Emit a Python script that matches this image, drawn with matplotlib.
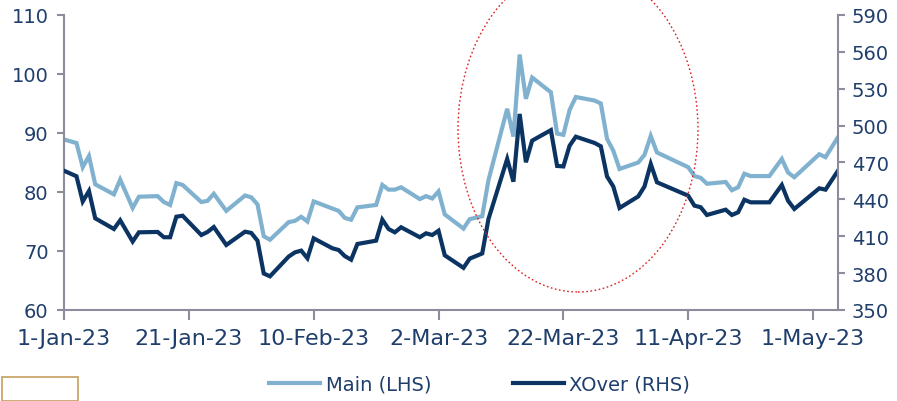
import matplotlib
matplotlib.use("Agg")
import matplotlib.pyplot as plt
from matplotlib.patches import Ellipse, Rectangle
import pandas as pd

dates = ["2023-01-01", "2023-01-03", "2023-01-04", "2023-01-05", "2023-01-06",
         "2023-01-09", "2023-01-10", "2023-01-12", "2023-01-13", "2023-01-16",
         "2023-01-17", "2023-01-18", "2023-01-19", "2023-01-20", "2023-01-23",
         "2023-01-24", "2023-01-25", "2023-01-27", "2023-01-30", "2023-01-31",
         "2023-02-01", "2023-02-02", "2023-02-03", "2023-02-06", "2023-02-07",
         "2023-02-08", "2023-02-09", "2023-02-10", "2023-02-13", "2023-02-14",
         "2023-02-15", "2023-02-16", "2023-02-17", "2023-02-20", "2023-02-21",
         "2023-02-22", "2023-02-23", "2023-02-24", "2023-02-27", "2023-02-28",
         "2023-03-01", "2023-03-02", "2023-03-03", "2023-03-06", "2023-03-07",
         "2023-03-09", "2023-03-10", "2023-03-13", "2023-03-14", "2023-03-15",
         "2023-03-16", "2023-03-17", "2023-03-20", "2023-03-21", "2023-03-22",
         "2023-03-23", "2023-03-24", "2023-03-27", "2023-03-28", "2023-03-29",
         "2023-03-30", "2023-03-31", "2023-04-03", "2023-04-04", "2023-04-05",
         "2023-04-06", "2023-04-11", "2023-04-12", "2023-04-13", "2023-04-14",
         "2023-04-17", "2023-04-18", "2023-04-19", "2023-04-20", "2023-04-21",
         "2023-04-24", "2023-04-26", "2023-04-27", "2023-04-28", "2023-05-02",
         "2023-05-03", "2023-05-05"]

main_lhs = [88.9, 88.3, 84.2, 86.1, 81.3,
            79.6, 82.1, 77.3, 79.2, 79.3,
            78.3, 77.8, 81.5, 81.2, 78.3,
            78.5, 79.7, 76.8, 79.4, 79.1,
            77.9, 72.5, 71.9, 74.9, 75.1,
            75.8, 75.0, 78.4, 77.2, 76.8,
            75.6, 75.3, 77.4, 77.8, 81.2,
            80.4, 80.4, 80.8, 78.8, 79.3,
            78.9, 80.1, 76.2, 73.8, 75.4,
            75.9, 82.0, 94.1, 89.4, 103.3,
            95.8, 99.4, 96.9, 89.9, 89.7,
            93.9, 96.1, 95.5, 95.0, 89.0,
            87.0, 83.9, 85.0, 86.3, 89.5,
            86.7, 84.2, 82.7, 82.4, 81.4,
            81.7, 80.3, 80.8, 83.1, 82.7,
            82.7, 85.6, 83.3, 82.5, 86.4,
            85.9, 89.3]

xover_rhs = [463.3, 458.8, 438.3, 446.8, 424.6,
             415.9, 423.0, 405.7, 413.2, 413.5,
             409.2, 409.2, 425.9, 426.7, 411.0,
             413.5, 417.5, 402.9, 413.7, 412.7,
             406.4, 379.7, 377.4, 393.5, 396.9,
             398.3, 392.1, 408.3, 400.2, 398.8,
             393.8, 390.9, 403.7, 406.4, 423.5,
             415.9, 413.2, 417.3, 409.2, 412.4,
             411.0, 414.5, 394.5, 384.3, 391.8,
             396.0, 424.0, 472.9, 454.4, 509.5,
             470.2, 487.8, 496.3, 467.2, 466.8,
             483.7, 491.0, 485.9, 483.2, 458.6,
             450.5, 433.0, 442.4, 450.5, 468.8,
             453.9, 443.0, 434.9, 433.6, 427.3,
             431.6, 427.3, 429.5, 439.7, 437.6,
             437.6, 451.7, 438.9, 432.2, 449.0,
             447.9, 463.3]

tick_dates = ["2023-01-01", "2023-01-21", "2023-02-10", "2023-03-02",
              "2023-03-22", "2023-04-11", "2023-05-01"]
tick_labels = ["1-Jan-23", "21-Jan-23", "10-Feb-23", "2-Mar-23",
               "22-Mar-23", "11-Apr-23", "1-May-23"]
left_ticks = [60, 70, 80, 90, 100, 110]
right_ticks = [350, 380, 410, 440, 470, 500, 530, 560, 590]

MAIN_C = "#80B2D0"
XO_C = "#0B3463"
TXT_C = "#1F3E6C"
SPINE_C = "#8C8C9C"

plt.rcParams['font.family'] = ['DejaVu Sans']

fig = plt.figure(figsize=(8.97, 4.02), dpi=100)
ax = fig.add_axes([64/897, 1-311/402, (838-64)/897, (311-16)/402])
ax2 = ax.twinx()

x = pd.to_datetime(dates)
l1, = ax.plot(x, main_lhs, color=MAIN_C, lw=3.0, solid_joinstyle='miter')
l2, = ax2.plot(x, xover_rhs, color=XO_C, lw=3.0, solid_joinstyle='miter')

ax.set_ylim(60, 110)
ax2.set_ylim(350, 590)
ax.set_yticks(left_ticks)
ax2.set_yticks(right_ticks)
ax.set_xlim(pd.Timestamp("2023-01-01"), pd.Timestamp("2023-05-05"))
ax.set_xticks(pd.to_datetime(tick_dates))
ax.set_xticklabels(tick_labels)

for a in (ax, ax2):
    a.set_facecolor('none')
    a.spines['top'].set_visible(False)
    for s in ('left', 'right', 'bottom'):
        a.spines[s].set_color(SPINE_C)
        a.spines[s].set_linewidth(1.5)
    a.tick_params(colors=SPINE_C, labelcolor=TXT_C, labelsize=14,
                  width=1.5, length=5)
ax.spines['right'].set_visible(False)
ax2.spines['left'].set_visible(False)
ax2.spines['bottom'].set_visible(False)
ax.tick_params(axis='x', pad=6, length=7, labelsize=16)
ax.tick_params(axis='y', pad=6)
ax2.tick_params(axis='y', pad=5)

# red dotted ellipse highlight
ell = Ellipse((578/897, 1-130/402), 240/897, 326/402, transform=fig.transFigure,
              fill=False, edgecolor="#E02020", lw=1.0, linestyle=(0, (1.2, 1.8)))
fig.patches.append(ell)

# small tan box bottom-left
rect = Rectangle((2/897, 0.0), 76/897, 24/402, transform=fig.transFigure,
                 fill=False, edgecolor="#C9A66B", lw=1.3)
fig.patches.append(rect)

fig.legend([l1, l2], ["Main (LHS)", "XOver (RHS)"], loc='center',
           bbox_to_anchor=(0.535, 1-385/402), ncol=2, frameon=False,
           fontsize=14, handlelength=2.6, columnspacing=4.2,
           labelcolor=TXT_C, handletextpad=0.3)

fig.savefig("out.png", dpi=100)
